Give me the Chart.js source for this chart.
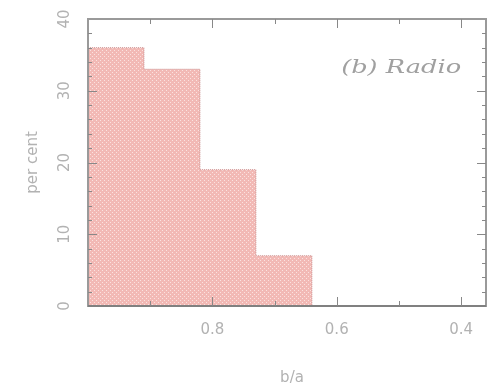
<!DOCTYPE html>
<html>
<head>
<meta charset="utf-8">
<script src="https://cdn.jsdelivr.net/npm/chart.js@4"></script>
<style>
  html, body { margin: 0; padding: 0; background: #fff; }
  #wrap { width: 489px; height: 389px; }
</style>
</head>
<body>
<div id="wrap"><canvas id="hist" width="489" height="389"></canvas></div>
<script>
// bin edges (b/a) and percentages per bin
const binEdges = [1.0, 0.91, 0.82, 0.73, 0.64];
const percents = [36, 33, 19, 7];
const xTickLabels = [0.8, 0.6, 0.4];
const yTickLabels = [0, 10, 20, 30, 40];

// stepped outline points
const stepPoints = binEdges.map((e, i) => ({ x: e, y: i < percents.length ? percents[i] : 0 }));

// pink crosshatch fill
function makePattern() {
    const c = document.createElement('canvas');
    c.width = 4; c.height = 4;
    const g = c.getContext('2d');
    g.fillStyle = '#f2b9b5';
    g.fillRect(0, 0, 4, 4);
    g.fillStyle = '#fbe2e0';
    g.fillRect(0, 0, 1, 1);
    g.fillRect(2, 2, 1, 1);
    return g.createPattern(c, 'repeat');
}

const frameColor = '#9a9a9a';
const textColor = '#b2b2b2';
const font = '15px "DejaVu Sans"';

const axesPlugin = {
    id: 'axesPlugin',
    afterDraw(chart) {
        const ctx = chart.ctx;
        const a = chart.chartArea;
        const xs = chart.scales.x, ys = chart.scales.y;
        ctx.save();
        // frame
        ctx.strokeStyle = frameColor;
        ctx.lineWidth = 2;
        ctx.strokeRect(a.left, a.top, a.right - a.left, a.bottom - a.top);
        ctx.strokeStyle = '#808080';
        ctx.beginPath(); ctx.moveTo(a.left, a.bottom); ctx.lineTo(a.right, a.bottom); ctx.stroke();

        // x ticks, inward, top and bottom
        ctx.lineWidth = 1;
        ctx.strokeStyle = '#888';
        for (let v = 0.9; v > 0.35; v -= 0.1) {
            const px = Math.round(xs.getPixelForValue(v)) + 0.5;
            const major = Math.abs(Math.round(v * 10) % 2) === 0;
            const len = major ? 9 : 5;
            ctx.beginPath();
            ctx.moveTo(px, a.bottom); ctx.lineTo(px, a.bottom - len);
            ctx.moveTo(px, a.top); ctx.lineTo(px, a.top + len);
            ctx.stroke();
        }
        // y ticks, inward, left and right
        for (let v = 2; v < 40; v += 2) {
            const py = Math.round(ys.getPixelForValue(v)) + 0.5;
            const len = v % 10 === 0 ? 9 : 4;
            ctx.beginPath();
            ctx.moveTo(a.left, py); ctx.lineTo(a.left + len, py);
            ctx.moveTo(a.right, py); ctx.lineTo(a.right - len, py);
            ctx.stroke();
        }

        // tick labels
        ctx.fillStyle = textColor;
        ctx.font = font;
        ctx.textAlign = 'center';
        ctx.textBaseline = 'middle';
        xTickLabels.forEach(v => {
            ctx.fillText(v.toFixed(1), xs.getPixelForValue(v), a.bottom + 24);
        });
        yTickLabels.forEach(v => {
            ctx.save();
            ctx.translate(a.left - 23, ys.getPixelForValue(v));
            ctx.rotate(-Math.PI / 2);
            ctx.fillText(String(v), 0, 0);
            ctx.restore();
        });

        // axis titles
        ctx.fillText('b/a', (a.left + a.right) / 2 + 5, a.bottom + 72);
        ctx.save();
        ctx.translate(a.left - 55, (a.top + a.bottom) / 2);
        ctx.rotate(-Math.PI / 2);
        ctx.fillText('per cent', 0, 0);
        ctx.restore();

        // panel label, stretched like the plotter font
        ctx.fillStyle = '#a0a0a0';
        ctx.font = 'italic 18px "DejaVu Serif"';
        ctx.textAlign = 'left';
        const label = '(b) Radio';
        const w = ctx.measureText(label).width;
        const xr = xs.getPixelForValue(0.4);
        ctx.save();
        ctx.translate(xr - 120, ys.getPixelForValue(0) - 238);
        ctx.scale(120 / w, 1);
        ctx.fillText(label, 0, 0);
        ctx.restore();
        ctx.restore();
    }
};

const ctx = document.getElementById('hist').getContext('2d');
const chart = new Chart(ctx, {
    type: 'line',
    data: {
        datasets: [{
            data: stepPoints,
            stepped: 'before',
            fill: 'origin',
            backgroundColor: makePattern(),
            borderColor: 'rgba(200,140,140,0.9)',
            borderWidth: 1,
            borderDash: [1, 1],
            pointRadius: 0
        }]
    },
    options: {
        responsive: false,
        animation: false,
        layout: { padding: { left: 88, top: 19, right: 3, bottom: 83 } },
        scales: {
            x: { type: 'linear', reverse: true, min: 0.36, max: 1.0, display: false },
            y: { min: 0, max: 40, display: false }
        },
        plugins: {
            legend: { display: false },
            tooltip: { enabled: false }
        }
    },
    plugins: [axesPlugin]
});
</script>
</body>
</html>
